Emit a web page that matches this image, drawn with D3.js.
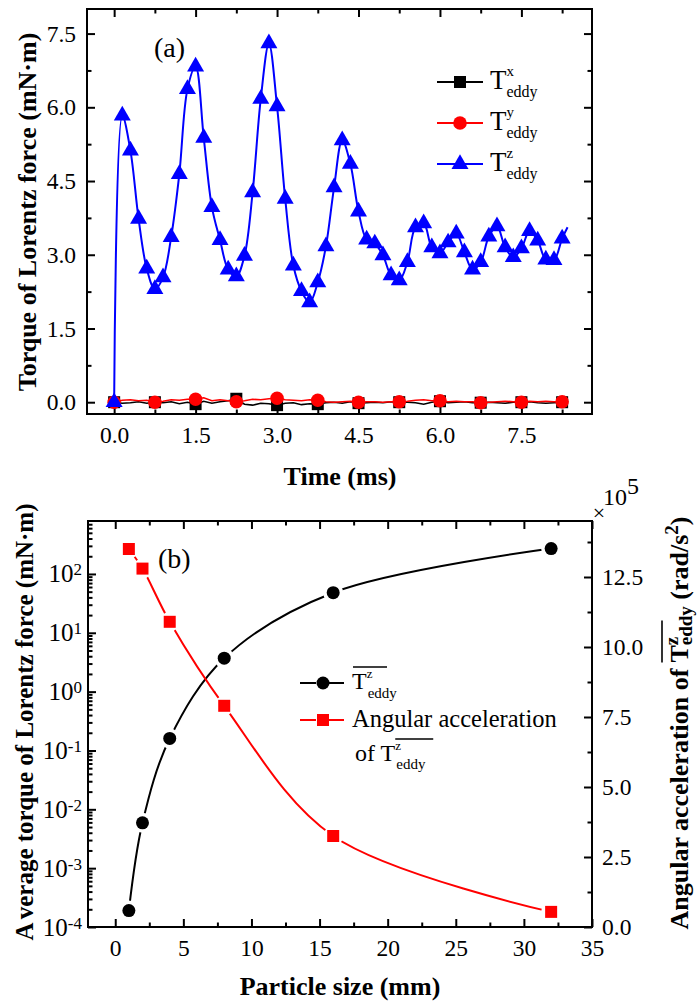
<!DOCTYPE html>
<html>
<head>
<meta charset="utf-8">
<script src="https://cdnjs.cloudflare.com/ajax/libs/d3/7.8.5/d3.min.js"></script>
<style>
  body { margin: 0; background: #fff; }
  svg { font-family: "Liberation Serif", "Times New Roman", serif; }
</style>
</head>
<body>
<div id="chart"></div>
<script>
const width = 699;
const height = 1003;
const FONT = '"Liberation Serif", "Times New Roman", serif';

// ---- (a) torque vs time, sampled every 0.15 ms ----
const timeMs = [0, 0.15, 0.3, 0.45, 0.6, 0.75, 0.9, 1.05, 1.2, 1.35,
  1.5, 1.65, 1.8, 1.95, 2.1, 2.25, 2.4, 2.55, 2.7, 2.85,
  3.0, 3.15, 3.3, 3.45, 3.6, 3.75, 3.9, 4.05, 4.2, 4.35,
  4.5, 4.65, 4.8, 4.95, 5.1, 5.25, 5.4, 5.55, 5.7, 5.85,
  6.0, 6.15, 6.3, 6.45, 6.6, 6.75, 6.9, 7.05, 7.2, 7.35,
  7.5, 7.65, 7.8, 7.95, 8.1, 8.25];
const tzValues = [0.00, 5.83, 5.12, 3.73, 2.72, 2.30, 2.54, 3.36, 4.64, 6.37,
  6.83, 5.38, 3.97, 3.30, 2.70, 2.56, 2.98, 4.27, 6.17, 7.30,
  6.02, 4.14, 2.78, 2.26, 2.03, 2.44, 3.17, 4.37, 5.33, 4.85,
  3.88, 3.31, 3.23, 2.99, 2.58, 2.48, 2.85, 3.56, 3.64, 3.15,
  3.03, 3.25, 3.43, 3.05, 2.70, 2.85, 3.37, 3.58, 3.15, 2.95,
  3.13, 3.48, 3.29, 2.90, 2.89, 3.33];
const tzTail = [8.35, 3.56];
const txValues = [0.00, -0.02, -0.01, 0.01, -0.02, 0.00, -0.01, 0.01, -0.03, 0.00,
  -0.04, 0.02, -0.02, 0.01, 0.03, 0.07, -0.04, -0.06, -0.02, -0.03,
  -0.06, -0.02, -0.01, -0.05, -0.03, -0.04, -0.01, 0.00, -0.02, 0.01,
  -0.02, -0.01, 0.00, -0.01, 0.01, 0.00, 0.00, -0.01, -0.04, 0.00,
  0.02, -0.01, 0.00, 0.01, -0.01, -0.01, 0.00, -0.01, -0.02, 0.00,
  0.00, 0.01, -0.01, -0.02, -0.01, 0.00];
const tyValues = [0.00, 0.04, 0.05, 0.03, 0.04, 0.00, 0.02, 0.05, 0.04, 0.06,
  0.06, 0.09, 0.03, 0.05, 0.03, 0.01, 0.03, 0.06, 0.05, 0.07,
  0.08, 0.05, 0.04, 0.03, 0.05, 0.04, 0.01, 0.00, 0.01, 0.02,
  0.00, 0.01, 0.01, 0.00, 0.01, 0.01, 0.02, 0.04, 0.05, 0.03,
  0.03, 0.01, 0.02, 0.01, 0.01, -0.01, 0.00, 0.01, 0.02, 0.01,
  0.00, 0.02, 0.01, 0.02, 0.01, 0.01];
const xTicksA = [0, 1.5, 3, 4.5, 6, 7.5];
const xMinorA = [0.75, 2.25, 3.75, 5.25, 6.75, 8.25];
const yTicksA = [0, 1.5, 3, 4.5, 6, 7.5];
const yMinorA = [0.75, 2.25, 3.75, 5.25, 6.75];

// ---- (b) particle size ----
const sizes = [1, 2, 4, 8, 16, 32];
const avgTorque = [1.9e-4, 5.9e-3, 0.16, 3.7, 48, 270];   // mN·m
const angAcc = [13.5, 12.8, 10.9, 7.9, 3.25, 0.54];       // x10^5 rad/s^2
const xTicksB = [0, 5, 10, 15, 20, 25, 30, 35];
const xMinorB = [2.5, 7.5, 12.5, 17.5, 22.5, 27.5, 32.5];
const logExps = [-4, -3, -2, -1, 0, 1, 2];
const yTicksR = [0, 2.5, 5, 7.5, 10, 12.5];
const yMinorR = [1.25, 3.75, 6.25, 8.75, 11.25, 13.75];

const svg = d3.select("#chart").append("svg")
  .attr("width", width).attr("height", height)
  .style("font-family", FONT);

// scales
const xA = d3.scaleLinear().domain([-0.5, 8.8]).range([87, 592]);
const yA = d3.scaleLinear().domain([-0.24, 8.0]).range([414, 9]);
const xB = d3.scaleLinear().domain([-2, 35]).range([88, 592]);
const yBL = d3.scaleLog().domain([1e-4, Math.pow(10, 2.9)]).range([927, 521]);
const yBR = d3.scaleLinear().domain([0, 14.5]).range([927, 521]);

function drawTicks(gen, scale, values, len, pos, horiz, fmt, pad) {
  const a = gen(scale).tickValues(values).tickSizeInner(-len).tickSizeOuter(0)
    .tickPadding(pad || 0).tickFormat(fmt || (() => ""));
  const g = svg.append("g")
    .attr("transform", horiz ? `translate(0,${pos})` : `translate(${pos},0)`)
    .call(a)
    .attr("font-family", FONT)
    .attr("font-size", 23.5);
  g.select(".domain").remove();
  g.selectAll(".tick line").attr("stroke", "#000").attr("stroke-width", 2);
  g.selectAll(".tick text").attr("fill", "#000");
  return g;
}

// ================= panel (a) =================
const f1 = d3.format(".1f");
drawTicks(d3.axisBottom, xA, xTicksA, 8, 414, true, f1, 12);
drawTicks(d3.axisBottom, xA, xMinorA, 4.5, 414, true);
drawTicks(d3.axisTop, xA, xTicksA, 8, 9, true);
drawTicks(d3.axisTop, xA, xMinorA, 4.5, 9, true);
drawTicks(d3.axisLeft, yA, yTicksA, 8, 87, false, f1, 11);
drawTicks(d3.axisLeft, yA, yMinorA, 4.5, 87, false);
drawTicks(d3.axisRight, yA, yTicksA, 8, 592, false);
drawTicks(d3.axisRight, yA, yMinorA, 4.5, 592, false);

const gA = svg.append("g");
const lineA = d3.line().x(d => xA(d[0])).y(d => yA(d[1]));

const txPts = timeMs.map((t, i) => [t, txValues[i]]);
const tyPts = timeMs.map((t, i) => [t, tyValues[i]]);
const tzPts = timeMs.map((t, i) => [t, tzValues[i]]);

gA.append("path").attr("d", lineA(txPts)).attr("fill", "none")
  .attr("stroke", "#000").attr("stroke-width", 1.6);
gA.selectAll(".sq").data(txPts.filter((d, i) => i % 5 === 0)).join("rect")
  .attr("x", d => xA(d[0]) - 6).attr("y", d => yA(d[1]) - 6)
  .attr("width", 12).attr("height", 12).attr("fill", "#000");

gA.append("path").attr("d", lineA(tyPts)).attr("fill", "none")
  .attr("stroke", "#ff0000").attr("stroke-width", 1.6);
gA.selectAll(".ci").data(tyPts.filter((d, i) => i % 5 === 0)).join("circle")
  .attr("cx", d => xA(d[0])).attr("cy", d => yA(d[1])).attr("r", 6.8)
  .attr("fill", "#ff0000");

gA.append("path").attr("d", lineA.curve(d3.curveCatmullRom.alpha(0.5))(tzPts.concat([tzTail])))
  .attr("fill", "none").attr("stroke", "#0000ff").attr("stroke-width", 2);
const tri = d3.symbol(d3.symbolTriangle, 125);
gA.selectAll(".tr").data(tzPts).join("path")
  .attr("d", tri).attr("transform", d => `translate(${xA(d[0])},${yA(d[1])})`)
  .attr("fill", "#0000ff");

svg.append("rect").attr("x", 87).attr("y", 9).attr("width", 505).attr("height", 405)
  .attr("fill", "none").attr("stroke", "#000").attr("stroke-width", 2);

svg.append("text").attr("x", 154).attr("y", 57).attr("font-size", 28).text("(a)");

// T_eddy style label helper
function teddy(parent, x, y, o) {
  const t = parent.append("text").attr("x", x).attr("y", y)
    .attr("font-size", o.fs).attr("font-weight", o.weight || "normal")
    .attr("text-anchor", o.anchor || "start").attr("fill", "#000");
  const pre = o.prefix || "";
  if (pre) t.append("tspan").text(pre);
  t.append("tspan").text("T");
  const sup = t.append("tspan").attr("font-size", o.supFs).attr("dy", -o.supRise)
    .attr("dx", o.supDx || 0).text(o.sup);
  const supW = sup.node().getComputedTextLength();
  t.append("tspan").attr("font-size", o.subFs).attr("dy", o.supRise + o.subDrop)
    .attr("dx", -supW - (o.supDx || 0) + (o.subDx || 0)).text("eddy");
  if (o.suffix) {
    t.append("tspan").attr("dy", -o.subDrop).text(o.suffix);
    t.append("tspan").attr("font-size", o.subFs).attr("dy", -o.supRise).text("2");
    t.append("tspan").attr("dy", o.supRise).text(")");
  }
  if (o.overLen) {
    const ext = t.node().getExtentOfChar(pre.length);
    parent.append("line")
      .attr("x1", ext.x + (o.overDx || 0)).attr("x2", ext.x + (o.overDx || 0) + o.overLen)
      .attr("y1", y - o.overRise).attr("y2", y - o.overRise)
      .attr("stroke", "#000").attr("stroke-width", o.overW || 1.3);
  }
  return t;
}

// legend (a)
const legA = [
  { sup: "x", color: "#000", shape: "square" },
  { sup: "y", color: "#ff0000", shape: "circle" },
  { sup: "z", color: "#0000ff", shape: "triangle" }
];
const legRowsA = [82, 123, 164];
legA.forEach((d, i) => {
  const y = legRowsA[i];
  svg.append("line").attr("x1", 437).attr("x2", 483).attr("y1", y).attr("y2", y)
    .attr("stroke", d.color).attr("stroke-width", 2);
  if (d.shape === "square") {
    svg.append("rect").attr("x", 454).attr("y", y - 6).attr("width", 12).attr("height", 12).attr("fill", d.color);
  } else if (d.shape === "circle") {
    svg.append("circle").attr("cx", 460).attr("cy", y).attr("r", 6.8).attr("fill", d.color);
  } else {
    svg.append("path").attr("d", tri).attr("transform", `translate(460,${y})`).attr("fill", d.color);
  }
  teddy(svg, 490, y + 7, { fs: 27, sup: d.sup, supFs: 15, supRise: 13, subFs: 16, subDrop: 8, supDx: 0 });
});

// axis titles (a)
svg.append("text").attr("x", 340).attr("y", 485).attr("text-anchor", "middle")
  .attr("font-size", 26).attr("font-weight", "bold").text("Time (ms)");
svg.append("text").attr("transform", "translate(36,212) rotate(-90)").attr("text-anchor", "middle")
  .attr("font-size", 26).attr("font-weight", "bold").text("Torque of Lorentz force (mN·m)");

// ================= panel (b) =================
const fd = d3.format("d");
drawTicks(d3.axisBottom, xB, xTicksB, 8, 927, true, fd, 12);
drawTicks(d3.axisBottom, xB, xMinorB, 4.5, 927, true);
drawTicks(d3.axisTop, xB, xTicksB, 8, 521, true);
drawTicks(d3.axisTop, xB, xMinorB, 4.5, 521, true);

const logMajor = logExps.map(e => Math.pow(10, e));
const logMinor = [];
logExps.forEach(e => { for (let k = 2; k <= 9; k++) { const v = k * Math.pow(10, e); if (v <= Math.pow(10, 2.9)) logMinor.push(v); } });
const gLog = drawTicks(d3.axisLeft, yBL, logMajor, 8, 88, false, () => "", 6);
gLog.selectAll(".tick text").each(function (d, i) {
  const t = d3.select(this).attr("font-size", 25);
  t.text("10");
  t.append("tspan").attr("font-size", 17).attr("dy", -7).text(String(logExps[i]));
});
drawTicks(d3.axisLeft, yBL, logMinor, 4.5, 88, false);

drawTicks(d3.axisRight, yBR, yTicksR, 8, 592, false, f1, 10);
drawTicks(d3.axisRight, yBR, yMinorR, 4.5, 592, false);

const gB = svg.append("g");
const lineB1 = d3.line().x(d => xB(d[0])).y(d => yBL(d[1])).curve(d3.curveCatmullRom.alpha(0.5));
const lineB2 = d3.line().x(d => xB(d[0])).y(d => yBR(d[1])).curve(d3.curveCatmullRom.alpha(0.5));
const torquePts = sizes.map((s, i) => [s, avgTorque[i]]);
const accPts = sizes.map((s, i) => [s, angAcc[i]]);

gB.append("path").attr("d", lineB1(torquePts)).attr("fill", "none")
  .attr("stroke", "#000").attr("stroke-width", 2);
gB.append("path").attr("d", lineB2(accPts)).attr("fill", "none")
  .attr("stroke", "#ff0000").attr("stroke-width", 2);
// line gaps around markers
gB.selectAll(".gap1").data(torquePts).join("circle")
  .attr("cx", d => xB(d[0])).attr("cy", d => yBL(d[1])).attr("r", 10).attr("fill", "#fff");
gB.selectAll(".gap2").data(accPts).join("circle")
  .attr("cx", d => xB(d[0])).attr("cy", d => yBR(d[1])).attr("r", 10).attr("fill", "#fff");
gB.selectAll(".m1").data(torquePts).join("circle")
  .attr("cx", d => xB(d[0])).attr("cy", d => yBL(d[1])).attr("r", 6.5).attr("fill", "#000");
gB.selectAll(".m2").data(accPts).join("rect")
  .attr("x", d => xB(d[0]) - 6).attr("y", d => yBR(d[1]) - 6)
  .attr("width", 12).attr("height", 12).attr("fill", "#ff0000");

svg.append("rect").attr("x", 88).attr("y", 521).attr("width", 504).attr("height", 406)
  .attr("fill", "none").attr("stroke", "#000").attr("stroke-width", 2);

svg.append("text").attr("x", 158).attr("y", 568).attr("font-size", 28).text("(b)");

// x10^5
svg.append("text").attr("x", 599).attr("y", 520).attr("text-anchor", "middle").attr("font-size", 22).text("×");
svg.append("text").attr("x", 603).attr("y", 505).attr("font-size", 24).text("10")
  .append("tspan").attr("dy", -11).text("5");

// legend (b)
[[683, "#000"], [720, "#ff0000"]].forEach(([y, c], i) => {
  svg.append("line").attr("x1", 300).attr("x2", 316).attr("y1", y).attr("y2", y).attr("stroke", c).attr("stroke-width", 2);
  svg.append("line").attr("x1", 329).attr("x2", 344).attr("y1", y).attr("y2", y).attr("stroke", c).attr("stroke-width", 2);
  if (i === 0) svg.append("circle").attr("cx", 323).attr("cy", y).attr("r", 6.5).attr("fill", c);
  else svg.append("rect").attr("x", 317).attr("y", y - 6).attr("width", 12).attr("height", 12).attr("fill", c);
});
teddy(svg, 352, 689, { fs: 24, sup: "z", supFs: 13, supRise: 11, supDx: 0, subFs: 15, subDrop: 9, subDx: 1,
  overLen: 34, overRise: 22, overDx: 1 });
svg.append("text").attr("x", 352).attr("y", 727).attr("font-size", 24.5).text("Angular acceleration");
teddy(svg, 355, 761, { fs: 24, prefix: "of  ", sup: "z", supFs: 13, supRise: 11, supDx: 0, subFs: 15, subDrop: 8, subDx: 1,
  overLen: 38, overRise: 22, overDx: 0 });

// axis titles (b)
svg.append("text").attr("x", 340).attr("y", 995).attr("text-anchor", "middle")
  .attr("font-size", 26).attr("font-weight", "bold").text("Particle size (mm)");
const lt = svg.append("text").attr("transform", "translate(33,722) rotate(-90)").attr("text-anchor", "middle")
  .attr("font-size", 25).attr("font-weight", "bold");
lt.append("tspan").text("A");
lt.append("tspan").attr("dx", 5).text("verage torque of Lorentz force (mN·m)");

const rg = svg.append("g").attr("transform", "translate(688,723) rotate(-90)");
teddy(rg, 0, 0, { fs: 26, weight: "bold", anchor: "middle", prefix: "Angular acceleration of ",
  sup: "z", supFs: 19, supRise: 10, subFs: 19, subDrop: 4, supDx: 0,
  suffix: " (rad/s", overLen: 42, overRise: 26, overW: 1.6 });
</script>
</body>
</html>
